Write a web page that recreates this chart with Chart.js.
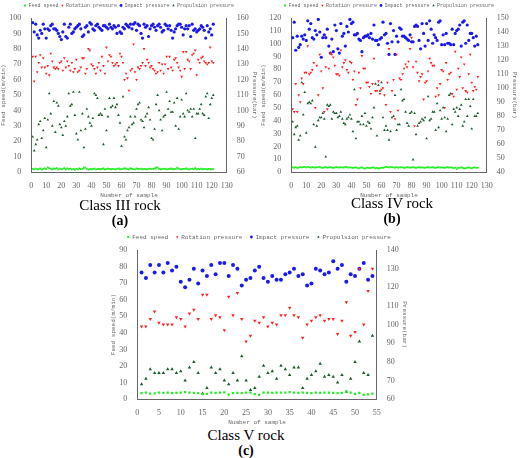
<!DOCTYPE html>
<html><head><meta charset="utf-8">
<script src="https://cdn.jsdelivr.net/npm/chart.js@4"></script>
<style>
body{margin:0;background:#fff;width:520px;height:458px;position:relative;overflow:hidden}
.p{position:absolute}
.t{position:absolute;font-family:"Liberation Serif",serif;text-align:center;color:#000}
.t .n{font-size:15px;line-height:15px}
.t .l{font-size:14px;font-weight:bold;line-height:15px}
</style></head><body>
<div class="p" style="left:0;top:0;width:260px;height:199px"><canvas id="ca"></canvas></div>
<div class="p" style="left:260px;top:0;width:260px;height:199px"><canvas id="cb"></canvas></div>
<div class="p" style="left:110px;top:226px;width:300px;height:200px"><canvas id="cc"></canvas></div>
<div class="t" style="left:20px;top:198px;width:200px"><div class="n">Class III rock</div><div class="l">(a)</div></div>
<div class="t" style="left:292px;top:196px;width:200px"><div class="n">Class IV rock</div><div class="l">(b)</div></div>
<div class="t" style="left:146px;top:428px;width:200px"><div class="n">Class V rock</div><div class="l">(c)</div></div>
<script>
// ---- Class III rock ----
const feedA=[2.1,1.8,2.3,1.9,2.0,2.4,1.7,2.2,2.5,2.0,3.1,2.6,2.2,1.9,2.4,2.1,2.7,1.8,2.3,2.0,2.2,2.6,1.9,2.4,2.1,2.3,1.8,2.0,1.6,2.2,1.9,2.5,2.0,2.1,2.9,3.0,2.2,1.7,2.0,1.9,2.1,2.3,1.8,2.0,2.2,1.9,2.1,2.4,1.8,2.0,2.3,2.1,1.9,2.2,2.0,1.8,2.1,2.4,1.9,2.0,2.2,2.6,2.3,2.0,1.9,2.7,2.2,2.0,1.8,2.4,2.1,2.0,2.3,1.9,2.2,2.0,1.8,2.1,2.3,2.0,2.2,2.4,2.9,3.1,2.2,1.9,2.0,2.3,2.1,1.8,2.0,2.2,2.4,1.9,2.1,2.0,2.8,2.3,2.0,1.9,2.2,2.1,2.4,2.0,1.8,2.2,2.3,2.0,2.6,1.9,2.1,2.0,2.3,1.9,2.2,2.0,1.8,2.1,2.0,1.9,2.0];
const rotA=[135,119,135,125,131,136,128,134,128,124,129,123,137,132,128,127,128,127,131,132,126,134,128,132,129,126,131,125,127,133,125,126,128,134,134,124,127,140,139,130,129,127,124,128,131,126,135,129,124,141,132,136,135,131,129,130,131,129,137,135,131,120,124,121,113,126,127,143,125,120,128,127,129,131,140,129,133,131,128,129,127,126,124,125,131,126,130,124,130,135,127,135,128,126,133,134,131,128,126,122,138,127,138,133,132,127,136,137,139,123,133,131,134,135,132,131,130,131,141,132,131];
const impA=[157,151,156,149,147,152,150,156,153,147,153,152,155,156,153,153,152,150,148,146,151,156,148,147,154,156,150,151,153,154,155,156,153,148,149,154,155,151,157,156,153,152,155,156,154,153,152,155,155,154,153,156,154,153,155,154,150,155,151,150,154,153,156,155,154,156,153,156,157,152,156,155,150,147,156,154,155,148,153,155,156,154,152,155,156,154,151,152,156,155,153,155,152,147,151,153,155,156,156,154,149,153,155,153,155,148,156,152,153,151,152,153,155,154,152,147,155,151,153,149,156];
const proA=[83,74,78,81,91,93,82,87,95,76,94,111,98,90,106,86,105,103,91,89,84,93,90,96,111,103,104,112,97,85,81,112,87,98,76,88,101,96,92,90,95,111,110,108,97,98,97,78,101,87,96,108,102,103,108,102,104,97,92,77,109,83,81,87,89,96,91,92,96,101,104,105,94,93,89,96,98,102,94,82,81,88,104,110,100,94,87,96,97,112,101,106,99,99,105,90,108,88,96,107,98,96,111,100,99,101,96,101,82,98,98,101,104,98,97,109,111,95,104,108,110];
// ---- Class IV rock ----
const feedB=[3.8,3.5,3.9,3.4,3.6,4.0,3.7,3.9,4.1,3.8,4.2,3.9,3.6,4.0,3.8,3.5,3.9,3.7,4.1,3.6,3.3,3.8,4.0,3.5,3.7,3.9,3.6,3.4,3.8,4.0,3.7,3.5,3.9,3.6,3.8,4.2,3.9,3.6,3.7,3.5,3.3,3.6,3.8,3.4,3.0,3.5,3.7,3.2,2.8,3.4,3.6,3.1,3.3,3.7,3.5,3.0,3.4,2.9,3.2,3.6,3.3,3.8,4.1,3.9,3.7,4.2,4.0,3.8,3.6,3.9,3.5,3.7,4.0,3.8,3.4,3.6,3.9,3.7,3.5,3.8,4.0,3.6,3.3,3.7,3.9,3.5,3.8,3.6,3.4,3.7,3.9,3.5,3.8,4.0,3.6,3.3,3.7,3.9,3.5,3.8,3.6,3.4,3.7,3.9,3.5,3.8,3.6,3.2,3.5,2.4,3.3,3.6,3.8,3.4,2.9,3.2,3.6,3.8,3.4,3.0,3.5,3.7,3.3,3.6];
const rotB=[85,83,103,83,95,90,107,103,111,111,130,110,111,113,118,86,116,95,124,112,100,83,115,85,114,125,124,122,116,110,110,109,127,115,118,120,113,111,119,118,106,112,88,92,111,100,123,114,114,104,104,101,96,103,121,98,98,105,96,99,100,95,88,104,128,83,98,106,78,124,84,107,106,110,114,117,115,119,128,136,115,73,119,111,105,108,110,92,104,105,112,121,118,116,116,94,100,95,103,113,112,86,118,106,110,111,96,94,126,99,114,108,122,100,117,98,97,110,124,104,98,101,99,108];
const impB=[136,147,127,137,129,131,137,135,138,134,148,142,146,136,135,141,138,149,140,122,136,138,136,142,130,125,135,126,145,141,128,125,146,137,139,130,144,140,149,146,147,138,138,139,135,134,126,136,137,137,138,136,139,135,145,134,134,131,135,136,147,138,139,132,124,146,133,141,124,137,133,143,142,137,137,136,135,134,138,133,133,144,145,144,134,128,146,139,130,146,134,148,142,132,138,136,134,147,148,131,138,131,139,132,132,131,142,131,139,141,142,145,130,147,148,132,145,134,139,139,136,130,137,131];
const proB=[76,67,72,73,63,66,104,81,97,68,89,90,89,91,74,58,73,77,79,79,82,78,51,88,87,88,78,83,82,82,79,80,83,78,75,74,78,79,81,78,69,99,64,76,76,74,80,74,82,73,76,75,71,79,86,103,66,102,98,104,79,70,73,70,63,69,79,80,95,70,74,74,99,91,92,83,75,73,82,83,49,82,67,73,75,76,78,77,79,64,94,77,78,83,83,70,89,72,84,78,86,79,69,78,95,96,74,85,83,86,80,85,88,73,76,92,80,92,87,71,92,80,80,82];
// ---- Class V rock ----
const feedC=[3.6,3.9,3.4,3.5,4.0,3.8,3.9,3.7,3.8,4.0,4.2,3.9,3.8,3.7,3.0,3.2,4.0,3.8,3.9,4.1,2.8,3.7,3.8,3.6,3.9,4.0,3.0,2.6,4.0,3.9,3.8,3.9,4.0,3.9,4.2,4.0,3.8,3.9,3.8,3.7,3.9,3.8,3.9,4.0,3.8,3.7,3.8,4.6,3.9,3.2,3.8,2.6,2.9,3.4];
const rotC=[99,99,103,107,101,100,100,100,104,103,99,106,108,103,116,116,103,105,104,97,115,105,117,103,91,94,102,101,104,99,101,100,105,105,109,105,104,93,100,102,104,105,102,103,103,95,102,112,94,96,130,100,118,130];
const impC=[128,125,132,128,132,128,133,129,131,123,120,124,130,122,129,126,132,127,133,133,126,132,130,121,124,125,129,131,125,123,126,124,124,127,128,130,126,127,121,122,130,129,127,128,134,130,132,123,127,126,130,133,124,126];
const proC=[68,71,76,74,74,74,76,76,74,75,70,77,80,74,63,66,77,74,76,70,68,74,70,83,70,65,66,72,78,74,75,71,78,76,73,77,77,66,71,73,75,79,72,73,72,69,73,64,71,80,91,74,73,94];
const seriesNames=['Feed speed','Rotation pressure','Impact pressure','Propulsion pressure'];

const pts=a=>a.map((v,i)=>({x:i+1,y:v}));
const grey='#666';
function make(id,f,r,im,p,xmax,xstep,l,rgt,rad,lf){
  const tf={family:'Liberation Serif',size:8};
  const af={family:'Liberation Mono',size:6};
  new Chart(document.getElementById(id),{type:'scatter',
    data:{datasets:[
      {label:seriesNames[0],data:pts(f),yAxisID:'y',pointStyle:'rect',radius:rad*0.8,backgroundColor:'#22ee22',borderColor:'#22ee22',borderWidth:0},
      {label:seriesNames[1],data:pts(r),yAxisID:'y2',pointStyle:'triangle',rotation:180,radius:rad,backgroundColor:'#ff2020',borderColor:'#ff2020',borderWidth:0},
      {label:seriesNames[2],data:pts(im),yAxisID:'y2',pointStyle:'circle',radius:rad,backgroundColor:'#1a1aee',borderColor:'#1a1aee',borderWidth:0},
      {label:seriesNames[3],data:pts(p),yAxisID:'y2',pointStyle:'triangle',radius:rad,backgroundColor:'#1a5c2a',borderColor:'#1a5c2a',borderWidth:0}]},
    options:{animation:false,responsive:true,maintainAspectRatio:false,
      layout:{padding:{left:0,right:2,top:0,bottom:0}},
      plugins:{tooltip:{enabled:false},legend:{labels:{usePointStyle:true,boxWidth:2,boxHeight:2,padding:lf[1],font:{family:'Liberation Mono',size:lf[0]},color:grey}}},
      scales:{
        x:{type:'linear',min:0,max:xmax,grid:{display:false},border:{color:grey},ticks:{stepSize:xstep,autoSkip:false,font:tf,color:grey,maxRotation:0,padding:1},title:{display:true,text:'Number of sample',font:af,color:grey,padding:0}},
        y:{position:'left',min:l[0],max:l[1],grid:{display:false},border:{color:grey},ticks:{stepSize:10,autoSkip:false,font:tf,color:grey,padding:2},title:{display:true,text:'Feed speed(m/min)',font:af,color:grey,padding:0}},
        y2:{position:'right',min:rgt[0],max:rgt[1],grid:{display:false},border:{color:grey},ticks:{stepSize:10,autoSkip:false,font:tf,color:grey,padding:2},title:{display:true,text:'Pressure(bar)',font:af,color:grey,padding:0}}
      }}});
}
make('ca',feedA,rotA,impA,proA,130,10,[0,100],[60,160],1.6,[5,3]);
make('cb',feedB,rotB,impB,proB,130,10,[0,120],[40,150],1.6,[5,3]);
make('cc',feedC,rotC,impC,proC,55,5,[0,90],[60,140],2,[6,8]);
</script></body></html>
